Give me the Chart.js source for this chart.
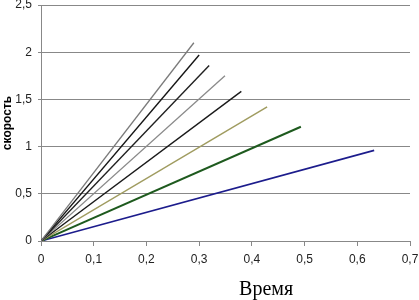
<!DOCTYPE html>
<html>
<head>
    <meta charset="utf-8">
    <script src="https://cdn.jsdelivr.net/npm/chart.js"></script>
    <style>
        html, body { margin: 0; padding: 0; background: #fff; }
        .wrap { width: 419px; height: 300px; }
    </style>
</head>
<body>
    <div class="wrap"><canvas id="speedChart" width="419" height="300"></canvas></div>
    <script>
        // время (x) и скорость (y) для каждой кривой
        const times = [
            [0, 0.290],
            [0, 0.300],
            [0, 0.319],
            [0, 0.349],
            [0, 0.380],
            [0, 0.429],
            [0, 0.493],
            [0, 0.632]
        ];
        const speeds = [
            [0, 2.10],
            [0, 1.97],
            [0, 1.86],
            [0, 1.75],
            [0, 1.585],
            [0, 1.42],
            [0, 1.21],
            [0, 0.96]
        ];
        const lineColors = ['#7a7a7a', '#151515', '#202020', '#8a8a8a', '#1a1a1a', '#a09c60', '#1e5a1e', '#1c1c8c'];
        const lineWidths = [1.3, 1.4, 1.4, 1.3, 1.4, 1.5, 2, 1.6];
        const xTicks = [0, 0.1, 0.2, 0.3, 0.4, 0.5, 0.6, 0.7];
        const yTicks = [0, 0.5, 1, 1.5, 2, 2.5];

        const fmt = v => String(Math.round(v * 10) / 10).replace('.', ',');

        const datasets = times.map((t, i) => ({
            data: t.map((x, j) => ({ x: x, y: speeds[i][j] })),
            borderColor: lineColors[i],
            borderWidth: lineWidths[i],
            pointRadius: 0,
            showLine: true,
            tension: 0
        }));

        // подпись оси X (сдвинута вправо, как в оригинале)
        const xTitle = {
            id: 'xTitle',
            afterDraw(chart) {
                const a = chart.chartArea;
                const c = chart.ctx;
                c.save();
                c.font = '20px "Liberation Serif", "Times New Roman", serif';
                c.fillStyle = '#000';
                c.textAlign = 'center';
                c.textBaseline = 'alphabetic';
                c.fillText('Время', a.left + (a.right - a.left) * 0.61, 295);
                c.restore();
            }
        };

        new Chart(document.getElementById('speedChart'), {
            type: 'scatter',
            data: { datasets: datasets },
            plugins: [xTitle],
            options: {
                responsive: false,
                animation: false,
                layout: { padding: { top: 5, right: 9, left: 0, bottom: 0 } },
                plugins: { legend: { display: false }, tooltip: { enabled: false } },
                scales: {
                    x: {
                        type: 'linear',
                        min: 0,
                        max: 0.7,
                        afterBuildTicks: s => { s.ticks = xTicks.map(v => ({ value: v })); },
                        afterFit: s => { s.height = 59; s.paddingRight = 0; s.paddingLeft = 0; },
                        ticks: {
                            callback: fmt,
                            color: '#222',
                            font: { family: 'Arial, "Liberation Sans"', size: 12 },
                            padding: 6,
                            maxRotation: 0
                        },
                        grid: { drawOnChartArea: false, drawTicks: true, tickLength: 5, color: '#888' },
                        border: { display: true, color: '#888' }
                    },
                    y: {
                        min: 0,
                        max: 2.5,
                        afterBuildTicks: s => { s.ticks = yTicks.map(v => ({ value: v })); },
                        afterFit: s => { s.width = 41; s.paddingTop = 0; },
                        ticks: {
                            callback: fmt,
                            color: '#222',
                            font: { family: 'Arial, "Liberation Sans"', size: 12 },
                            padding: 6
                        },
                        grid: { color: '#888', drawTicks: true, tickLength: 3 },
                        border: { display: true, color: '#888' },
                        title: {
                            display: true,
                            text: 'скорость',
                            color: '#000',
                            font: { family: 'Arial, "Liberation Sans"', size: 12, weight: 'bold' },
                            padding: { top: 0, bottom: 0 }
                        }
                    }
                }
            }
        });
    </script>
</body>
</html>
